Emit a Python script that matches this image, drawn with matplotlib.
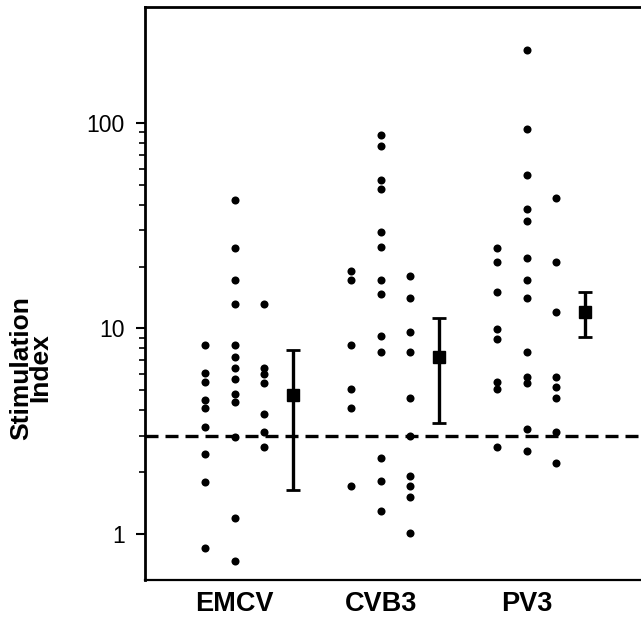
import numpy as np
import matplotlib
matplotlib.use("Agg")
import matplotlib.pyplot as plt

# values (stimulation index, log scale)
groups = ["EMCV", "CVB3", "PV3"]

emcv_a = [8.3, 6.1, 5.5, 4.5, 4.1, 3.3, 2.45, 1.8, 0.85]
emcv_b = [42, 24.6, 17.2, 13.1, 8.3, 7.3, 6.4, 5.7, 4.8, 4.4, 2.95, 1.2, 0.74]
emcv_c = [13.1, 6.4, 6.0, 5.4, 3.85, 3.15, 2.65]

cvb3_a = [19.0, 17.3, 8.3, 5.1, 4.1, 1.71]
cvb3_b = [87, 77, 53, 48, 29.5, 25, 17.2, 14.8, 9.15, 7.65, 2.33, 1.81, 1.29]
cvb3_c = [18.1, 14.1, 9.65, 7.65, 4.6, 3.0, 1.91, 1.71, 1.52, 1.01]

pv3_a = [24.6, 21.1, 15.1, 9.9, 8.9, 5.5, 5.1, 2.64]
pv3_b = [226, 94, 56, 38, 33.5, 22.1, 17.2, 14.1, 7.65, 5.8, 5.4, 3.25, 2.52]
pv3_c = [43, 21.1, 12.05, 5.8, 5.2, 4.6, 3.15, 2.21]

means = [4.74, 7.26, 12.05]
err_low = [1.63, 3.47, 9.07]
err_high = [7.83, 11.3, 15.1]

cutoff = 3.0

columns = [[emcv_a, emcv_b, emcv_c],
           [cvb3_a, cvb3_b, cvb3_c],
           [pv3_a, pv3_b, pv3_c]]
col_offsets = [-0.2, 0.0, 0.2]
mean_offset = 0.4

fig = plt.figure(figsize=(6.41, 6.21), dpi=100)
ax = fig.add_axes([145 / 641, 41 / 621, 496 / 641, 573 / 621])

# individual responders, three columns per virus
for i, cols in enumerate(columns):
    for off, vals in zip(col_offsets, cols):
        ax.plot(np.full(len(vals), i + 1 + off), vals, 'o', color='black',
                markersize=5.8, markeredgewidth=0)

# group mean with range
x_mean = np.arange(1, 4) + mean_offset
yerr = [np.array(means) - np.array(err_low), np.array(err_high) - np.array(means)]
ax.errorbar(x_mean, means, yerr=yerr, fmt='s', color='black', markersize=8.5,
            elinewidth=2.4, capsize=4.7, capthick=2)

ax.axhline(cutoff, color='black', lw=2.4, dashes=(3.9, 2.1))

ax.set_yscale('log')
ax.set_ylim(0.597, 367)
ax.set_xlim(0.386, 3.783)

ax.set_yticks([1, 10, 100])
ax.set_yticklabels(['1', '10', '100'], fontsize=16.5, family='Liberation Sans')
ax.set_yticks([v * d for d in (1, 10) for v in range(2, 10)], minor=True)
ax.yaxis.set_minor_formatter(plt.NullFormatter())
ax.tick_params(axis='y', which='major', length=6.5, width=1.5, pad=8)
ax.tick_params(axis='y', which='minor', length=4, width=1.2)

ax.set_xticks([1, 2, 3])
ax.set_xticklabels(groups, fontsize=19.5, fontweight='bold', family='Liberation Sans')
ax.tick_params(axis='x', length=0, pad=8)

ax.spines['right'].set_visible(False)
ax.spines['left'].set_linewidth(2)
ax.spines['top'].set_linewidth(2)
ax.spines['bottom'].set_linewidth(1.6)

fig.text(31 / 641, 1 - 368 / 621, 'Stimulation\nIndex', rotation=90,
         ha='center', va='center', ma='center', fontsize=19, fontweight='bold',
         family='Liberation Sans', linespacing=0.75)

fig.savefig('out.png', dpi=100)
